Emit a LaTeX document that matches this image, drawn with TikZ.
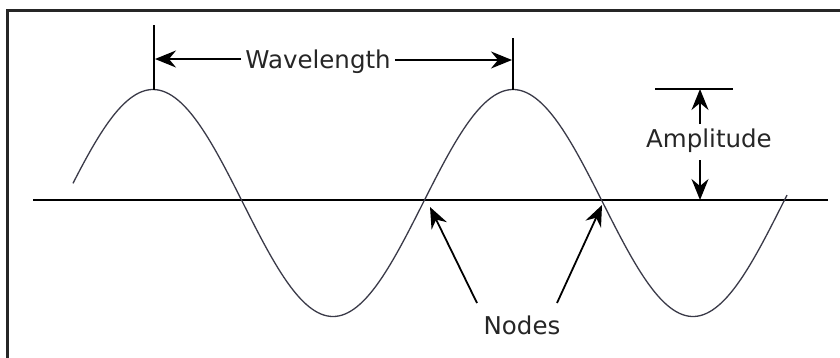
\documentclass[tikz,border=0pt]{standalone}
\usepackage{fontspec}
\setmainfont{DejaVu Sans}
\usetikzlibrary{arrows.meta}
\definecolor{ink}{HTML}{262626}
\definecolor{wavec}{HTML}{3A3A48}
\tikzset{
  lbl/.style={text=ink, font=\fontsize{24.5}{29}\selectfont, inner sep=4pt, anchor=base},
  arr/.style={draw=black, line width=1.8pt, -{Stealth[length=21pt,width=17pt,inset=7pt]}},
  tick/.style={draw=black, line width=1.6pt},
  frame/.style={draw=ink, line width=2.2pt},
}
\begin{document}
\begin{tikzpicture}[x=1pt,y=-1pt]
\useasboundingbox (0,0) rectangle (840,357);
\fill[white] (0,0) rectangle (840,357);
% frame (top and left edges visible)
\draw[frame] (7.5,358) -- (7.5,10.5) -- (841,10.5);
% axis
\coordinate (axL) at (33,200);
\coordinate (axR) at (828,200);
\draw[line width=2pt, black] (axL) -- (axR);
% wave
\draw[wavec, line width=1.3pt, smooth, samples=240, domain=73:787]
  plot (\x, {203-113.5*cos(\x-153)});
% key points
\coordinate (pk1) at (154,89.5);
\coordinate (pk2) at (513,89.5);
\coordinate (pk1top) at (154,25);
\coordinate (pk2top) at (513,38);
\coordinate (wlL) at (155,59);
\coordinate (wlR) at (512,60);
\coordinate (ampTop) at (700,89);
\coordinate (ampBot) at (700,200);
\coordinate (n1) at (430,207);
\coordinate (n2) at (602,205);
\coordinate (n1s) at (477,303);
\coordinate (n2s) at (557,303);
% wavelength
\draw[tick] (pk1top) -- (pk1);
\draw[tick] (pk2top) -- (pk2);
\node[lbl] (wl) at (318,68) {Wavelength};
\draw[arr] (wl.west |- wlL) -- (wlL);
\draw[arr] (wl.east |- wlR) -- (wlR);
% amplitude
\draw[tick] (655,89) -- (733,89);
\node[lbl] (amp) at (709,147) {Amplitude};
\draw[arr] (ampTop |- amp.north) -- (ampTop);
\draw[arr] (ampBot |- amp.south) ++(0,4) -- (ampBot);
% nodes
\node[lbl] (nd) at (522,334) {Nodes};
\draw[arr] (n1s) -- (n1);
\draw[arr] (n2s) -- (n2);
\end{tikzpicture}
\end{document}
